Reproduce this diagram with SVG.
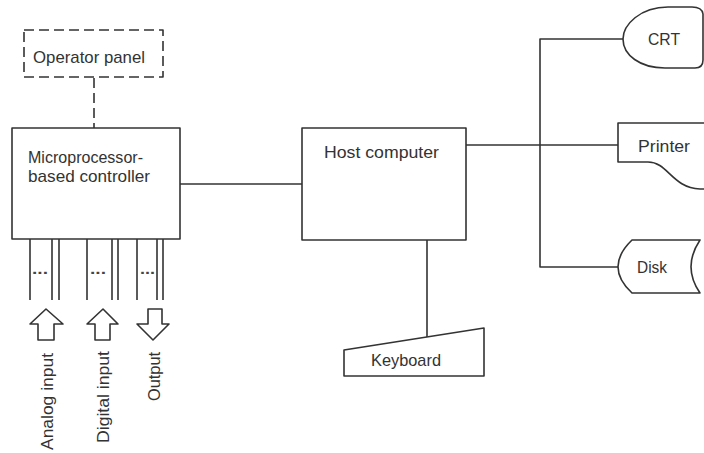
<svg xmlns="http://www.w3.org/2000/svg" width="704" height="453" viewBox="0 0 704 453">
<style>
.s{fill:none;stroke:#333;stroke-width:1.6;stroke-linejoin:round}
.f{fill:#fff;stroke:#333;stroke-width:1.6;stroke-linejoin:round}
.d{stroke-dasharray:10 5}
.t{font-family:"Liberation Sans",Arial,sans-serif;font-size:17px;fill:#333}
.dots{font-family:"Liberation Sans",Arial,sans-serif;font-size:14px;fill:#444;font-weight:bold}
</style>
<rect width="704" height="453" fill="#fff"/>
<g id="connectors">
<line class="s d" x1="94" y1="78" x2="94" y2="128"/>
<line class="s" x1="180" y1="184" x2="302" y2="184"/>
<line class="s" x1="466" y1="145" x2="618" y2="145"/>
<polyline class="s" points="623,39 540,39 540,267 618,267"/>
<line class="s" x1="427" y1="240" x2="427" y2="337"/>
</g>
<g id="operator-panel">
<rect class="s d" x="24" y="30" width="139" height="47"/>
<text class="t" x="33" y="63" textLength="112" lengthAdjust="spacingAndGlyphs">Operator panel</text>
</g>
<g id="controller">
<rect class="f" x="12" y="128" width="168" height="111"/>
<text class="t" x="28" y="163" textLength="115" lengthAdjust="spacingAndGlyphs">Microprocessor-</text>
<text class="t" x="28" y="182" textLength="122" lengthAdjust="spacingAndGlyphs">based controller</text>
</g>
<g id="io-lines">
<path class="s" d="M30,239V300M52,239V300M59,239V300M87,239V300M112,239V300M118,239V300M137,239V300M157,239V300M163,239V300"/>
<text class="dots" x="32" y="274" textLength="16" lengthAdjust="spacingAndGlyphs">...</text>
<text class="dots" x="90" y="274" textLength="16" lengthAdjust="spacingAndGlyphs">...</text>
<text class="dots" x="140" y="274" textLength="15" lengthAdjust="spacingAndGlyphs">...</text>
</g>
<g id="analog-input">
<polygon class="f" points="46,309 63,324 54,324 54,340 38,340 38,324 30,324"/>
<text class="t" transform="translate(53,450) rotate(-90)" textLength="97" lengthAdjust="spacingAndGlyphs">Analog input</text>
</g>
<g id="digital-input">
<polygon class="f" points="103,309 118,324 110,324 110,340 95,340 95,324 87,324"/>
<text class="t" transform="translate(109,443) rotate(-90)" textLength="92" lengthAdjust="spacingAndGlyphs">Digital input</text>
</g>
<g id="output">
<polygon class="f" points="148,309 162,309 162,324 169,324 153,340 137,324 148,324"/>
<text class="t" transform="translate(160,401) rotate(-90)" textLength="49" lengthAdjust="spacingAndGlyphs">Output</text>
</g>
<g id="host-computer">
<rect class="f" x="302" y="128" width="164" height="112"/>
<text class="t" x="324" y="158" textLength="115" lengthAdjust="spacingAndGlyphs">Host computer</text>
</g>
<g id="keyboard">
<polygon class="f" points="344,350 484,328 484,376 344,376"/>
<text class="t" x="371" y="366" textLength="70" lengthAdjust="spacingAndGlyphs">Keyboard</text>
</g>
<g id="crt">
<path class="f" d="M703,14 Q702,7 692,7 L668,7 C640,7 623,25 623,39 C623,55 640,68 665,68 L695,68 Q703,68 703,60 Z"/>
<text class="t" x="648" y="45" textLength="32" lengthAdjust="spacingAndGlyphs">CRT</text>
</g>
<g id="printer">
<path class="s" d="M706,123 L618,123 L618,162 L648,162 C668,162 672,188 700,189 L706,189"/>
<text class="t" x="638" y="152" textLength="52" lengthAdjust="spacingAndGlyphs">Printer</text>
</g>
<g id="disk">
<path class="f" d="M700,240 L632,240 Q604,267 632,293 L700,293 Q682,267 700,240 Z"/>
<text class="t" x="637" y="273" textLength="30" lengthAdjust="spacingAndGlyphs">Disk</text>
</g>
</svg>
